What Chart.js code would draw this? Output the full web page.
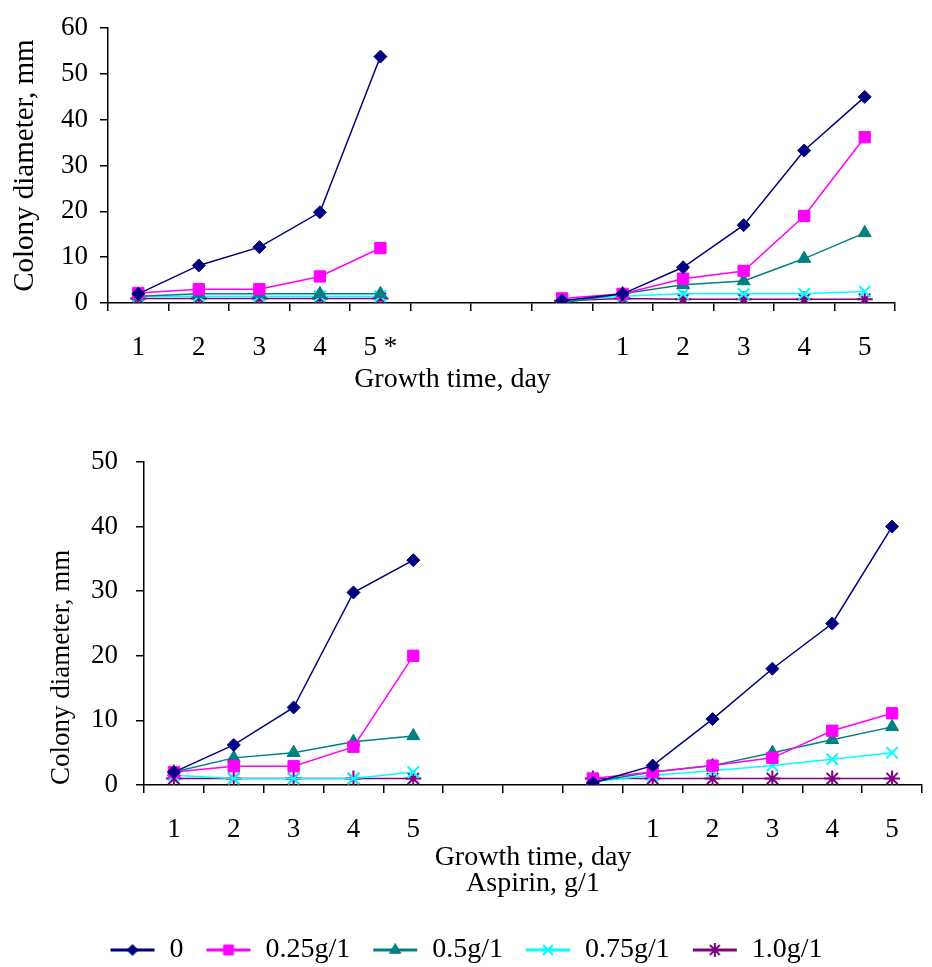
<!DOCTYPE html>
<html>
<head>
<meta charset="utf-8">
<title>Colony diameter vs growth time</title>
<script src="https://cdn.jsdelivr.net/npm/chart.js@4.4.0/dist/chart.umd.min.js"></script>
<style>
  html, body { margin: 0; padding: 0; background: #fff; overflow: hidden; }
  #topBox { position: absolute; left: 0; top: 0; width: 905px; height: 400px; }
  #bottomBox { position: absolute; left: 0; top: 420px; width: 932px; height: 554px; }
</style>
</head>
<body>
<div id="topBox"><canvas id="topChart"></canvas></div>
<div id="bottomBox"><canvas id="bottomChart"></canvas></div>
<script>
// categories (two groups on one axis, gap between them)
const topDays = ['1', '2', '3', '4', '5 *', '', '', '', '1', '2', '3', '4', '5']
const bottomDays = ['1', '2', '3', '4', '5', '', '', '', '1', '2', '3', '4', '5']
const doses = ['0', '0.25g/1', '0.5g/1', '0.75g/1', '1.0g/1']

// top panel, colony diameter mm
const top0   = [2, 8.2, 12.2, 19.8, 53.8, null, null, 0.5, 2, 7.8, 17, 33.3, 45]
const top025 = [2.2, 3, 3, 5.8, 12, null, null, 1, 2, 5.3, 7, 19, 36.2]
const top05  = [1.5, 2, 2, 2, 2, null, null, 0, 2, 4, 4.8, 9.7, 15.3]
const top075 = [1.5, 1.5, 1.5, 1.5, 1.5, null, null, 0.5, 1.5, 2, 2, 2, 2.5]
const top1   = [1, 1, 1, 1, 1, null, null, 0.5, 1, 0.8, 0.8, 0.8, 0.8]

// bottom panel
const bot0   = [2, 6.2, 12, 29.8, 34.8, null, null, 0.3, 3, 10.2, 18, 25, 40]
const bot025 = [2, 2.9, 2.9, 5.9, 20, null, null, 1, 2, 3, 4.2, 8.4, 11.1]
const bot05  = [2, 4.2, 5, 6.7, 7.6, null, null, 0.5, 2, 3, 5, 7, 9]
const bot075 = [1.5, 1, 1, 1, 2, null, null, 0.5, 1.5, 2.2, 3, 4, 5]
const bot1   = [1, 1, 1, 1, 1, null, null, 1, 1, 1, 1, 1, 1]

const topMax = 60
const bottomMax = 50
const yStep = 10

// styles
const colours = ['#000080', '#ff00ff', '#008080', '#00ffff', '#800080']
const markers = ['rectRot', 'rect', 'triangle', 'crossRot', 'star']
const markerSize = [6.5, 8, 7.5, 8, 8]

Chart.defaults.font.family = "'Liberation Serif', 'Times New Roman', serif"
Chart.defaults.color = '#000'
Chart.defaults.animation = false

function makeSets(series) {
  return series.map((vals, i) => ({
    label: doses[i],
    data: vals,
    borderColor: colours[i],
    backgroundColor: colours[i],
    borderWidth: 1.5,
    pointStyle: markers[i],
    pointRadius: markerSize[i],
    pointHoverRadius: markerSize[i],
    pointBorderWidth: i >= 3 ? 2 : 1,
    tension: 0,
    spanGaps: false
  }))
}

const axisLine = { display: true, color: '#000', width: 1.5 }
function tickGrid(offset) {
  return { drawOnChartArea: false, drawTicks: true, tickLength: 8, color: '#000', lineWidth: 1.5, offset: offset }
}

// line + marker icon for the legend, like the spreadsheet legend
function legendIcon(i) {
  const c = document.createElement('canvas')
  c.width = 46
  c.height = 20
  const ctx = c.getContext('2d')
  ctx.strokeStyle = colours[i]
  ctx.fillStyle = colours[i]
  ctx.lineWidth = 3
  ctx.beginPath()
  ctx.moveTo(1, 10)
  ctx.lineTo(45, 10)
  ctx.stroke()
  ctx.lineWidth = i >= 3 ? 2 : 1
  Chart.helpers.drawPoint(ctx, { pointStyle: markers[i], radius: markerSize[i] - 1, borderWidth: ctx.lineWidth, rotation: 0 }, 23, 10)
  return c
}

function legendLabels(chart) {
  const items = Chart.defaults.plugins.legend.labels.generateLabels(chart)
  return items.map((item, i) => Object.assign({}, item, { pointStyle: legendIcon(i), fontColor: '#000' }))
}

new Chart(document.getElementById('topChart'), {
  type: 'line',
  data: { labels: topDays, datasets: makeSets([top0, top025, top05, top075, top1]) },
  options: {
    responsive: true,
    maintainAspectRatio: false,
    layout: { padding: { top: 25, left: 0, right: 0, bottom: 0 } },
    plugins: {
      legend: { display: false },
      tooltip: { enabled: false },
      title: {
        display: true,
        position: 'bottom',
        text: 'Growth time, day',
        color: '#000',
        font: { size: 28, weight: 'normal' },
        padding: { top: 0, bottom: 4 }
      }
    },
    scales: {
      x: {
        offset: true,
        grid: tickGrid(true),
        border: axisLine,
        ticks: { autoSkip: false, maxRotation: 0, font: { size: 27 }, padding: 21, color: '#000' },
        afterFit: s => { s.height = 59.4 }
      },
      y: {
        min: 0,
        max: topMax,
        grid: tickGrid(false),
        border: axisLine,
        ticks: { stepSize: yStep, font: { size: 27 }, padding: 12, color: '#000' },
        title: { display: true, text: 'Colony diameter, mm', color: '#000', font: { size: 29 }, padding: { top: 8, bottom: 0 } },
        afterFit: s => { s.width = 108 }
      }
    }
  }
})

new Chart(document.getElementById('bottomChart'), {
  type: 'line',
  data: { labels: bottomDays, datasets: makeSets([bot0, bot025, bot05, bot075, bot1]) },
  options: {
    responsive: true,
    maintainAspectRatio: false,
    layout: { padding: { top: 42, left: 0, right: 0, bottom: 0 } },
    plugins: {
      tooltip: { enabled: false },
      legend: {
        display: true,
        position: 'bottom',
        labels: {
          usePointStyle: true,
          pointStyleWidth: 46,
          font: { size: 28 },
          padding: 22,
          color: '#000',
          generateLabels: legendLabels
        }
      }
    },
    scales: {
      x: {
        offset: true,
        grid: tickGrid(true),
        border: axisLine,
        ticks: { autoSkip: false, maxRotation: 0, font: { size: 27 }, padding: 21, color: '#000' },
        title: {
          display: true,
          text: ['Growth time, day', 'Aspirin, g/1'],
          color: '#000',
          font: { size: 28, lineHeight: 0.93 },
          padding: { top: 0, bottom: 17 }
        },
        afterFit: s => { s.height = 129 }
      },
      y: {
        min: 0,
        max: bottomMax,
        grid: tickGrid(false),
        border: axisLine,
        ticks: { stepSize: yStep, font: { size: 27 }, padding: 18, color: '#000' },
        title: { display: true, text: 'Colony diameter, mm', align: 'start', color: '#000', font: { size: 27 }, padding: { top: 46, bottom: 0 } },
        afterFit: s => { s.width = 144 }
      }
    }
  }
})
</script>
</body>
</html>
